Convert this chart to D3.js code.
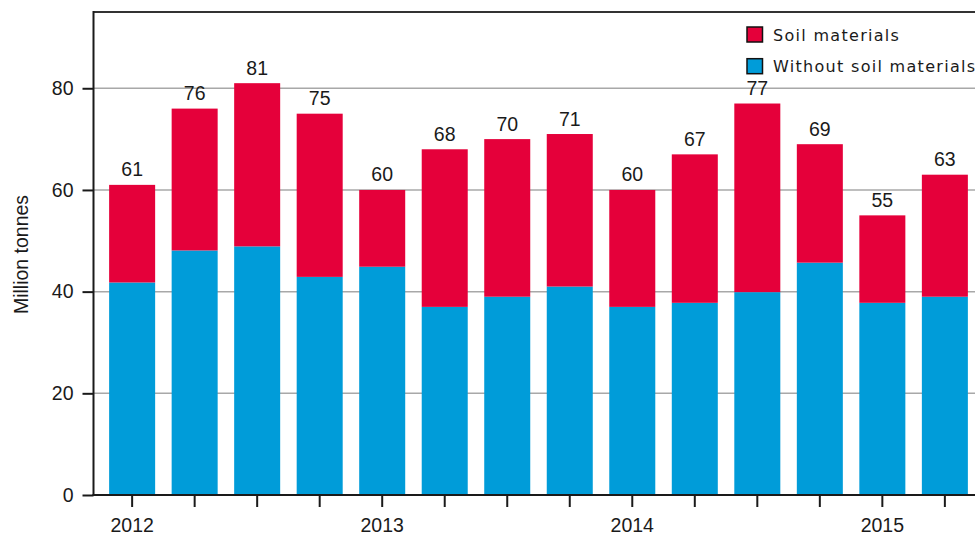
<!DOCTYPE html>
<html>
<head>
<meta charset="utf-8">
<script src="https://cdn.jsdelivr.net/npm/d3@7"></script>
<style>
  html, body { margin: 0; padding: 0; background: #fff; overflow: hidden; }
  svg { display: block; }
</style>
</head>
<body>
<svg id="chart" width="975" height="537"></svg>
<script>
// ---- data ----
const categories = ["2012Q1","2012Q2","2012Q3","2012Q4","2013Q1","2013Q2","2013Q3","2013Q4",
                    "2014Q1","2014Q2","2014Q3","2014Q4","2015Q1","2015Q2"];
const totals = [61, 76, 81, 75, 60, 68, 70, 71, 60, 67, 77, 69, 55, 63];
const withoutSoil = [41.8, 48.1, 48.9, 42.9, 44.9, 37.0, 39.0, 41.0, 37.0, 37.8, 39.9, 45.7, 37.8, 39.0];
const yTicks = [0, 20, 40, 60, 80];
const xTickLabels = {"2012Q1": "2012", "2013Q1": "2013", "2014Q1": "2014", "2015Q1": "2015"};
const seriesNames = ["Soil materials", "Without soil materials"];
const colors = {"Soil materials": "#e5003a", "Without soil materials": "#009cd9"};
const yTitle = "Million tonnes";

// ---- layout ----
const svg = d3.select("#chart");
const pL = 93.5, pR = 983.5, pT = 12, pB = 495;
const numFont = "'Liberation Sans', Arial, sans-serif";

const x = d3.scaleBand().domain(categories).range([pL, pR]).paddingInner(0.264).paddingOuter(0.25);
const y = d3.scaleLinear().domain([0, 95]).range([pB, pT]);

// gridlines
svg.append("g").selectAll("line").data(yTicks.filter(d => d > 0)).join("line")
  .attr("x1", pL).attr("x2", pR)
  .attr("y1", d => y(d)).attr("y2", d => y(d))
  .attr("stroke", "#a8a8a8").attr("stroke-width", 1.5);

// data rows
const rows = categories.map((c, i) => ({cat: c, base: withoutSoil[i], total: totals[i]}));

// blue (without soil)
svg.append("g").selectAll("rect").data(rows).join("rect")
  .attr("x", d => x(d.cat)).attr("width", x.bandwidth())
  .attr("y", d => y(d.base)).attr("height", d => y(0) - y(d.base))
  .attr("fill", colors["Without soil materials"]);

// red (soil)
svg.append("g").selectAll("rect").data(rows).join("rect")
  .attr("x", d => x(d.cat)).attr("width", x.bandwidth())
  .attr("y", d => y(d.total)).attr("height", d => y(d.base) - y(d.total))
  .attr("fill", colors["Soil materials"]);

// value labels
svg.append("g").selectAll("text").data(rows).join("text")
  .attr("x", d => x(d.cat) + x.bandwidth() / 2)
  .attr("y", d => y(d.total) - 8.5)
  .attr("text-anchor", "middle")
  .attr("font-family", numFont).attr("font-size", 19.5).attr("fill", "#1a1a1a")
  .text(d => d.total);

// y axis
const yAxis = d3.axisLeft(y).tickValues(yTicks).tickSize(11).tickPadding(9).tickFormat(d3.format("d"));
const gy = svg.append("g").attr("transform", `translate(${pL},0)`).call(yAxis);
gy.select(".domain").remove();
gy.selectAll(".tick line").attr("stroke", "#1a1a1a").attr("stroke-width", 2);
gy.selectAll(".tick text").attr("font-family", numFont).attr("font-size", 19.5).attr("fill", "#1a1a1a");

// x axis
const xAxis = d3.axisBottom(x).tickSize(12).tickPadding(11).tickFormat(d => xTickLabels[d] || "");
const gx = svg.append("g").attr("transform", `translate(0,${pB})`).call(xAxis);
gx.select(".domain").remove();
gx.selectAll(".tick line").attr("stroke", "#1a1a1a").attr("stroke-width", 2);
gx.selectAll(".tick text").attr("font-family", numFont).attr("font-size", 19.5).attr("fill", "#1a1a1a");

// frame lines
svg.append("line").attr("x1", pL).attr("x2", pR).attr("y1", pT).attr("y2", pT)
  .attr("stroke", "#333").attr("stroke-width", 2);
svg.append("line").attr("x1", pL).attr("x2", pL).attr("y1", pT - 1).attr("y2", pB + 1)
  .attr("stroke", "#1a1a1a").attr("stroke-width", 2);
svg.append("line").attr("x1", pL - 1).attr("x2", pR).attr("y1", pB).attr("y2", pB)
  .attr("stroke", "#1a1a1a").attr("stroke-width", 2);

// y title
svg.append("text")
  .attr("transform", `translate(28,${(pT + pB) / 2 + 1}) rotate(-90)`)
  .attr("text-anchor", "middle")
  .attr("font-family", numFont).attr("font-size", 19.5).attr("fill", "#1a1a1a")
  .text(yTitle);

// legend
const leg = svg.append("g").attr("transform", "translate(747,27)");
seriesNames.forEach((name, i) => {
  const g = leg.append("g").attr("transform", `translate(0,${i * 31.7})`);
  g.append("rect").attr("x", 0).attr("y", 0).attr("width", 15.5).attr("height", 15)
    .attr("fill", colors[name]).attr("stroke", "#111").attr("stroke-width", 1.5);
  g.append("text").attr("x", 26).attr("y", 13.5)
    .attr("font-family", "'DejaVu Sans', Verdana, sans-serif").attr("font-size", 16)
    .attr("letter-spacing", 1.3).attr("fill", "#1a1a1a")
    .text(name);
});
</script>
</body>
</html>
